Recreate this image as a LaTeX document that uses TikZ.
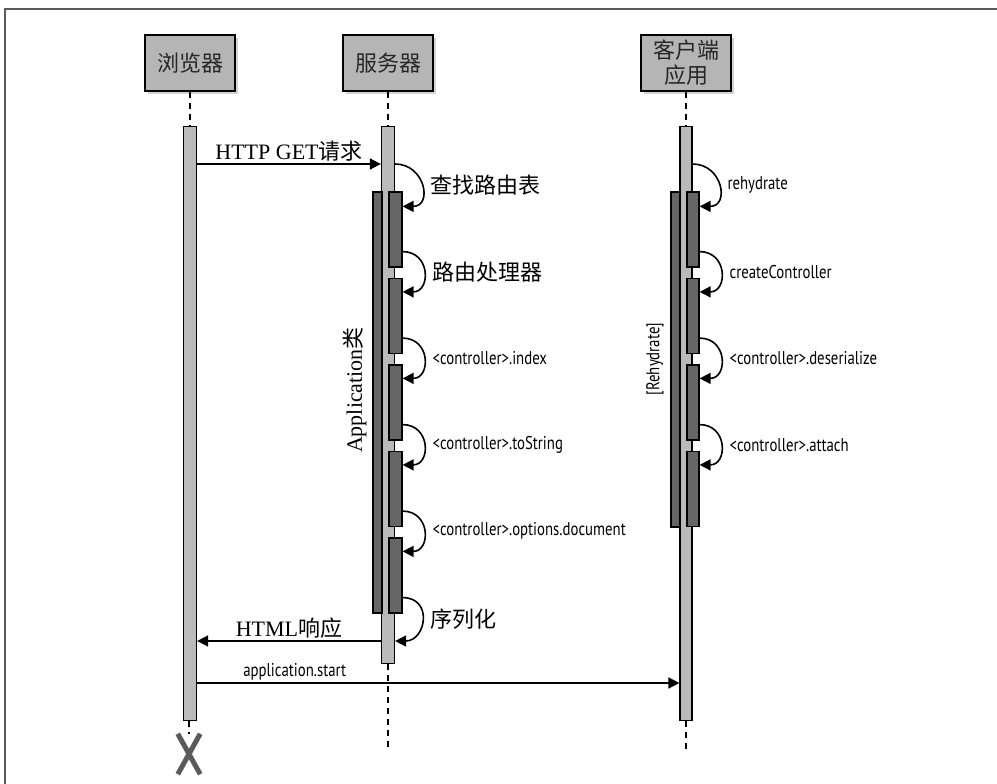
\documentclass[tikz,border=0pt]{standalone}
\usepackage{fontspec}
\setmainfont{Liberation Serif}
\newfontfamily\cjk{Noto Sans CJK SC}
\newfontfamily\cond[FakeStretch=0.8]{PT Sans}
\usetikzlibrary{arrows.meta,shadows,positioning,calc}
\definecolor{headfill}{RGB}{181,181,181}
\definecolor{barfill}{RGB}{186,186,186}
\definecolor{actfill}{RGB}{102,102,102}
\definecolor{inkgray}{RGB}{38,38,38}
\definecolor{framegray}{RGB}{90,90,90}

\begin{document}
\begin{tikzpicture}[x=1pt, y=-1pt,
    node distance=34pt,
    head/.style={draw, line width=2pt, fill=headfill, minimum width=90pt,
      minimum height=56pt, inner sep=0pt, align=center, text=inkgray,
      font=\cjk\fontsize{22}{25}\selectfont,
      drop shadow={opacity=0.35, shadow xshift=3pt, shadow yshift=-3pt}},
    life/.style={draw, line width=1.2pt, fill=barfill, minimum width=13pt, inner sep=0pt},
    act/.style={draw, line width=1.2pt, fill=actfill, minimum width=13pt,
      minimum height=75pt, inner sep=0pt},
    frameact/.style={draw, line width=1.2pt, fill=actfill, minimum width=9pt, inner sep=0pt},
    dashline/.style={line width=1.8pt, dash pattern=on 6pt off 5pt},
    msg/.style={-{Triangle[length=11pt,width=11pt]}, line width=1.6pt},
    selfcall/.style={-{Triangle[length=11pt,width=11pt]}, line width=1.6pt,
      out=0, in=0, looseness=1.8},
    cross/.style={line width=5pt, draw=framegray},
    cjklbl/.style={font=\cjk\fontsize{22}{25}\selectfont, inner sep=2pt},
    codelbl/.style={font=\cond\fontsize{18.5}{21}\selectfont, inner sep=2pt},
    serlbl/.style={font=\fontsize{22}{26}\selectfont, inner sep=2pt}
  ]
    \useasboundingbox (0,0) rectangle (997,784);
    \draw[framegray, line width=1.8pt] (5,784) -- (5,9) -- (997,9);

    % Heads
    \node[head] (brhead) at (190,63) {浏览器};
    \node[head] (svhead) at (388,63) {服务器};
    \node[head] (clhead) at (686,63) {客户端\\应用};

    % Lifelines
    \node[life, minimum height=594pt, below=of brhead] (brbar) {};
    \node[life, minimum height=537pt, below=of svhead] (svbar) {};
    \node[life, minimum width=12pt, minimum height=594pt, below=of clhead] (clbar) {};

    \node[minimum width=22pt, minimum height=40pt, inner sep=0pt] (brx) at (189,754) {};
    \coordinate (svend) at (388,750);
    \coordinate (clend) at (686,750);

    \draw[dashline] (brhead) -- (brbar);
    \draw[dashline] (svhead) -- (svbar);
    \draw[dashline] (clhead) -- (clbar);
    \draw[dashline] (brbar) -- (brx);
    \draw[dashline] (svbar) -- (svend);
    \draw[dashline] (clbar) -- (clend);

    % Browser ends
    \draw[cross] (brx.north west) -- (brx.south east);
    \draw[cross] (brx.north east) -- (brx.south west);

    % Server activations
    \node[frameact, minimum height=421pt] (svframe) at (377.5,402.5) {};
    \node[act] (sv1) at (395.5,229.5) {};
    \node[act] (sv2) at (395.5,316) {};
    \node[act] (sv3) at (395.5,402.5) {};
    \node[act] (sv4) at (395.5,489) {};
    \node[act] (sv5) at (395.5,575.5) {};
    \node[serlbl, rotate=90] (svname) at (355,390) {Application{\cjk 类}};

    % Client activations
    \node[frameact, minimum height=335pt] (clframe) at (675.5,359.5) {};
    \node[act, minimum width=12pt] (cl1) at (693,229.5) {};
    \node[act, minimum width=12pt] (cl2) at (693,316) {};
    \node[act, minimum width=12pt] (cl3) at (693,402.5) {};
    \node[act, minimum width=12pt] (cl4) at (693,489) {};
    \node[codelbl, rotate=90] (clname) at (655,359) {[Rehydrate]};

    % Messages
    \coordinate (m1) at (0,164);
    \coordinate (m2) at (0,641);
    \coordinate (m3) at (0,683);
    \draw[msg] (brbar.east |- m1) -- node[above, serlbl]{HTTP GET{\cjk 请求}} (svbar.west |- m1);
    \draw[msg] (svbar.west |- m2) -- node[above, serlbl]{HTML{\cjk 响应}} (brbar.east |- m2);
    \draw[msg] (brbar.east |- m3) -- node[pos=0.09, anchor=south west, codelbl]{application.start} (clbar.west |- m3);

    % Server self calls
    \draw[selfcall] (svbar.east |- m1) to node[right=6pt, cjklbl]{查找路由表} ([yshift=-15pt]sv1.north east);
    \draw[selfcall] ([yshift=16pt]sv1.south east) to node[right=6pt, cjklbl]{路由处理器} ([yshift=-14pt]sv2.north east);
    \draw[selfcall] ([yshift=16pt]sv2.south east) to node[right=6pt, codelbl]{<controller>.index} ([yshift=-14pt]sv3.north east);
    \draw[selfcall] ([yshift=16pt]sv3.south east) to node[right=6pt, codelbl]{<controller>.toString} ([yshift=-14pt]sv4.north east);
    \draw[selfcall] ([yshift=16pt]sv4.south east) to node[right=6pt, codelbl]{<controller>.options.document} ([yshift=-14pt]sv5.north east);
    \draw[selfcall] ([yshift=16pt]sv5.south east) to node[right=6pt, cjklbl]{序列化} (svbar.east |- m2);

    % Client self calls
    \draw[selfcall] (clbar.east |- m1) to node[right=6pt, codelbl]{rehydrate} ([yshift=-15pt]cl1.north east);
    \draw[selfcall] ([yshift=16pt]cl1.south east) to node[right=6pt, codelbl]{createController} ([yshift=-14pt]cl2.north east);
    \draw[selfcall] ([yshift=16pt]cl2.south east) to node[right=6pt, codelbl]{<controller>.deserialize} ([yshift=-14pt]cl3.north east);
    \draw[selfcall] ([yshift=16pt]cl3.south east) to node[right=6pt, codelbl]{<controller>.attach} ([yshift=-14pt]cl4.north east);
  \end{tikzpicture}
\end{document}
